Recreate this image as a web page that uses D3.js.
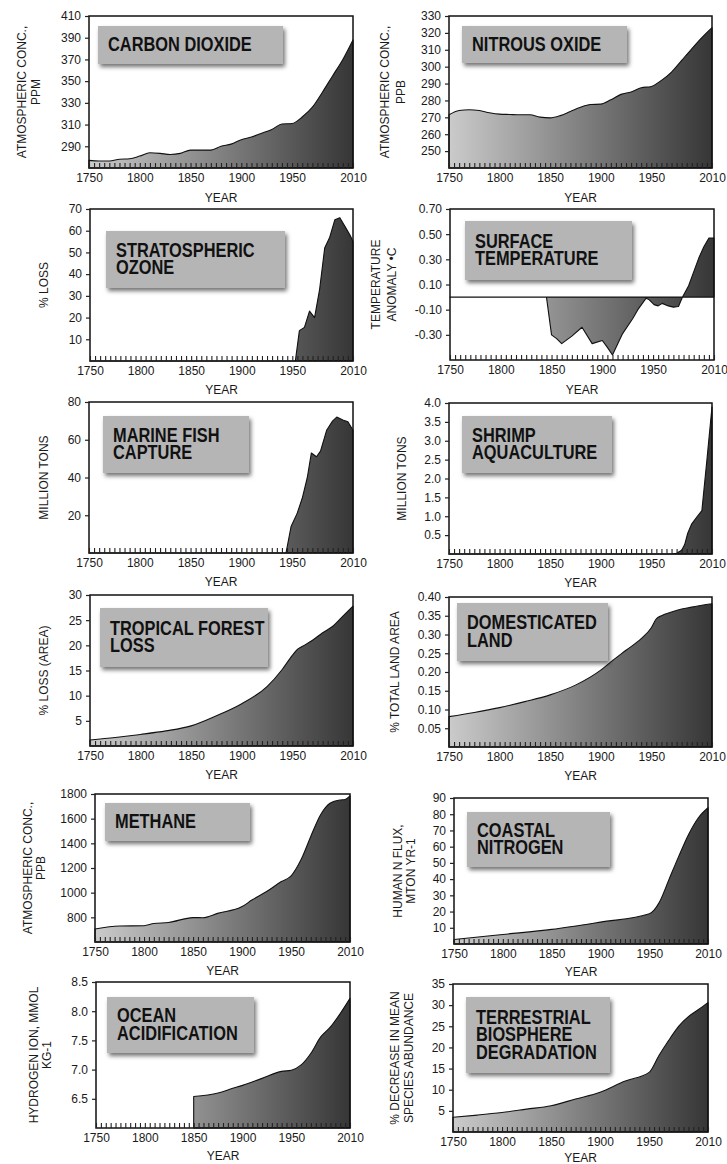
<!DOCTYPE html>
<html><head><meta charset="utf-8">
<script src="https://cdn.jsdelivr.net/npm/d3@7"></script>
<style>body{margin:0;background:#fff} svg{display:block}</style>
</head><body>
<svg id="c" width="727" height="1164"></svg>
<script>
// ---------- DATA ----------
const xTickLabels = [1750, 1800, 1850, 1900, 1950, 2010];

const co2 = [[1750,277],[1760,276.5],[1770,276.5],[1780,278],[1790,278.5],[1800,281],[1810,284],[1820,283.5],[1830,282.5],[1840,283.5],[1850,286.5],[1860,286.5],[1870,286.5],[1880,290],[1890,292],[1900,296],[1910,298.5],[1920,302],[1930,305.5],[1940,310.5],[1950,311],[1960,317],[1970,326],[1980,340],[1990,355],[2000,370],[2010,388]];
const co2Ticks = [290,310,330,350,370,390,410];

const n2o = [[1750,271.5],[1760,274],[1770,274.5],[1780,274],[1790,272.7],[1800,271.9],[1810,271.7],[1820,271.5],[1830,271.5],[1840,270.1],[1850,269.7],[1860,271],[1870,273.5],[1880,276],[1890,277.6],[1900,277.8],[1910,280.4],[1920,283.6],[1930,285],[1940,287.5],[1950,288.3],[1960,291.9],[1970,296.8],[1980,303.7],[1990,310.6],[2000,317.2],[2010,323.1]];
const n2oTicks = [250,260,270,280,290,300,310,320,330];

const ozone = [[1750,0],[1953,0],[1957,14],[1962,15.5],[1967,23],[1972,20],[1977,33],[1982,52],[1987,57],[1992,65],[1997,66],[2002,62],[2007,58],[2010,55]];
const ozoneTicks = [10,20,30,40,50,60,70];

const temperature = [[1750,0],[1845,0],[1850,-0.30],[1855,-0.33],[1860,-0.37],[1870,-0.31],[1880,-0.24],[1890,-0.37],[1900,-0.345],[1905,-0.40],[1910,-0.46],[1920,-0.29],[1930,-0.17],[1935,-0.10],[1943,-0.01],[1946,-0.02],[1951,-0.06],[1955,-0.07],[1959,-0.05],[1965,-0.07],[1970,-0.08],[1975,-0.075],[1979,0.0],[1985,0.09],[1990,0.20],[1995,0.31],[2000,0.40],[2005,0.47],[2010,0.47]];
const temperatureTicks = [-0.30,-0.10,0.10,0.30,0.50,0.70];

const fish = [[1750,0],[1944,0],[1949,14],[1955,21],[1960,29],[1965,40],[1969,53],[1974,51],[1978,54],[1984,65],[1990,70],[1994,72],[2000,70.5],[2005,69.5],[2010,65]];
const fishTicks = [20,40,60,80];

const shrimp = [[1750,0],[1970,0],[1975,0.02],[1980,0.1],[1983,0.25],[1986,0.55],[1990,0.8],[1995,0.98],[2000,1.15],[2005,2.5],[2010,3.9]];
const shrimpTicks = [0.5,1.0,1.5,2.0,2.5,3.0,3.5,4.0];

const forest = [[1750,1.2],[1775,1.7],[1800,2.3],[1825,3.0],[1850,4.0],[1875,6.0],[1900,8.4],[1925,11.8],[1940,15.2],[1950,18.0],[1955,19.2],[1960,19.8],[1970,21.0],[1980,22.5],[1990,23.8],[2000,25.8],[2010,27.8]];
const forestTicks = [5,10,15,20,25,30];

const land = [[1750,0.081],[1775,0.092],[1800,0.105],[1825,0.121],[1850,0.139],[1875,0.165],[1900,0.205],[1910,0.227],[1925,0.258],[1940,0.289],[1950,0.318],[1955,0.342],[1960,0.350],[1970,0.360],[1980,0.368],[1990,0.373],[2000,0.378],[2010,0.382]];
const landTicks = [0.05,0.10,0.15,0.20,0.25,0.30,0.35,0.40];

const methane = [[1750,705],[1775,730],[1800,732],[1810,750],[1825,758],[1850,798],[1860,797],[1875,832],[1900,887],[1910,940],[1925,1009],[1940,1090],[1950,1136],[1960,1266],[1970,1456],[1980,1632],[1990,1727],[2000,1752],[2005,1756],[2010,1785]];
const methaneTicks = [800,1000,1200,1400,1600,1800];

const nitrogen = [[1750,2.8],[1800,5.9],[1850,9.0],[1900,13.5],[1950,18.6],[1955,21],[1960,25.5],[1970,39.7],[1980,54],[1990,67.4],[2000,77.7],[2010,84]];
const nitrogenTicks = [10,20,30,40,50,60,70,80,90];

const ocean = [[1850,6.54],[1875,6.6],[1890,6.68],[1900,6.73],[1920,6.85],[1940,6.97],[1950,6.99],[1960,7.08],[1970,7.28],[1980,7.56],[1990,7.73],[2000,7.96],[2010,8.22]];
const oceanTicks = [6.5,7.0,7.5,8.0,8.5];

const biosphere = [[1750,3.5],[1775,4.0],[1800,4.6],[1825,5.4],[1850,6.2],[1875,7.8],[1900,9.4],[1925,12.0],[1950,14.1],[1960,18.1],[1970,21.7],[1980,25.0],[1990,27.3],[2000,28.9],[2010,30.6]];
const biosphereTicks = [5,10,15,20,25,30,35];

// ---------- PANEL DEFINITIONS ----------
const f0 = d3.format("d"), f1 = d3.format(".1f"), f2 = d3.format(".2f");
const hy = f => v => f(v).replace("\u2212", "-");

const panels = [
  {data: co2, domain:[270,410], ticks: co2Ticks, fmt: f0, title:["CARBON DIOXIDE"], ylab:["ATMOSPHERIC CONC.,","PPM"], smooth:true},
  {data: n2o, domain:[240,330], ticks: n2oTicks, fmt: f0, title:["NITROUS OXIDE"], ylab:["ATMOSPHERIC CONC.,","PPB"], smooth:true},
  {data: ozone, domain:[0,70], ticks: ozoneTicks, fmt: f0, title:["STRATOSPHERIC","OZONE"], ylab:["% LOSS"], smooth:false},
  {data: temperature, domain:[-0.5,0.7], ticks: temperatureTicks, fmt: hy(f2), title:["SURFACE","TEMPERATURE"], ylab:["TEMPERATURE","ANOMALY \u2022C"], smooth:false, base:0},
  {data: fish, domain:[0,80], ticks: fishTicks, fmt: f0, title:["MARINE FISH","CAPTURE"], ylab:["MILLION TONS"], smooth:false},
  {data: shrimp, domain:[0,4], ticks: shrimpTicks, fmt: f1, title:["SHRIMP","AQUACULTURE"], ylab:["MILLION TONS"], smooth:false},
  {data: forest, domain:[0,30], ticks: forestTicks, fmt: f0, title:["TROPICAL FOREST","LOSS"], ylab:["% LOSS (AREA)"], smooth:true},
  {data: land, domain:[0,0.4], ticks: landTicks, fmt: f2, title:["DOMESTICATED","LAND"], ylab:["% TOTAL LAND AREA"], smooth:true},
  {data: methane, domain:[600,1800], ticks: methaneTicks, fmt: f0, title:["METHANE"], ylab:["ATMOSPHERIC CONC.,","PPB"], smooth:true},
  {data: nitrogen, domain:[0,90], ticks: nitrogenTicks, fmt: f0, title:["COASTAL","NITROGEN"], ylab:["HUMAN N FLUX,","MTON YR-1"], smooth:true},
  {data: ocean, domain:[6.0,8.5], ticks: oceanTicks, fmt: f1, title:["OCEAN","ACIDIFICATION"], ylab:["HYDROGEN ION, MMOL","KG-1"], smooth:true},
  {data: biosphere, domain:[0,35], ticks: biosphereTicks, fmt: f0, title:["TERRESTRIAL","BIOSPHERE","DEGRADATION"], ylab:["% DECREASE IN MEAN","SPECIES ABUNDANCE"], smooth:true}
];

// ---------- LAYOUT ----------
const layout = [
  {l:89,  r:353, t:16,  b:168,  box:[98,283,26,64],     ylx:[26,40],   yr:34},
  {l:449, r:712, t:16,  b:168,  box:[462,627,26,63],    ylx:[389,405], yr:34},
  {l:90,  r:353, t:209, b:361,  box:[106,285,231,288],  ylx:[48],      yr:33},
  {l:450, r:714, t:209, b:360,  box:[465,632,221,280],  ylx:[380,396], yr:34},
  {l:89,  r:353, t:402, b:553,  box:[103,249,416,473],  ylx:[48],      yr:33},
  {l:449, r:712, t:403, b:554,  box:[462,612,416,473],  ylx:[406],     yr:33},
  {l:90,  r:353, t:595, b:746,  box:[100,268,608,667],  ylx:[48],      yr:33},
  {l:449, r:712, t:597, b:747,  box:[457,608,603,661],  ylx:[399],     yr:33},
  {l:95,  r:350, t:794, b:942,  box:[105,250,803,841],  ylx:[32,45],   yr:33},
  {l:454, r:708, t:798, b:944,  box:[467,610,812,867],  ylx:[402,415], yr:32},
  {l:96,  r:350, t:982, b:1128, box:[107,254,997,1053], ylx:[38,51],   yr:32},
  {l:453, r:708, t:984, b:1132, box:[466,610,997,1073], ylx:[399,413], yr:29.5}
];

// ---------- DRAW ----------
const svg = d3.select("#c");
const defs = svg.append("defs");
const flt = defs.append("filter").attr("id","shadow").attr("x","-20%").attr("y","-30%").attr("width","140%").attr("height","170%");
flt.append("feDropShadow").attr("dx",2).attr("dy",3).attr("stdDeviation",2.2)
   .attr("flood-color","#000").attr("flood-opacity",0.55);

const tickFont = "'Liberation Sans', Arial, sans-serif";
const titleFont = "'Liberation Sans', Arial, sans-serif";

panels.forEach((p, i) => {
  const L = layout[i];
  const x = d3.scaleLinear().domain([1750, 2010]).range([L.l, L.r]);
  const y = d3.scaleLinear().domain(p.domain).range([L.b, L.t]);
  const base = p.base !== undefined ? p.base : p.domain[0];

  const g = svg.append("g");

  const gid = "grad" + i;
  const grad = defs.append("linearGradient").attr("id", gid)
    .attr("gradientUnits","userSpaceOnUse")
    .attr("x1", x(1750)).attr("x2", x(2010)).attr("y1",0).attr("y2",0);
  grad.append("stop").attr("offset","0%").attr("stop-color","#cbcbcb");
  grad.append("stop").attr("offset","100%").attr("stop-color","#363636");

  const area = d3.area()
    .x(d => x(d[0])).y0(y(base)).y1(d => y(d[1]))
    .curve(p.smooth ? d3.curveMonotoneX : d3.curveLinear);

  g.append("path").datum(p.data).attr("d", area)
    .attr("fill", `url(#${gid})`).attr("stroke","#111").attr("stroke-width",1.1)
    .attr("stroke-linejoin","round");

  // frame
  g.append("rect").attr("x",L.l).attr("y",L.t).attr("width",L.r-L.l).attr("height",L.b-L.t)
    .attr("fill","none").attr("stroke","#111").attr("stroke-width",1.5);

  // y axis ticks
  const yAxis = d3.axisLeft(y).tickValues(p.ticks).tickFormat(p.fmt).tickSize(4).tickPadding(4);
  const ya = g.append("g").attr("transform",`translate(${L.l},0)`).call(yAxis);
  ya.select(".domain").remove();
  ya.selectAll("line").attr("stroke","#222").attr("stroke-width",1.2);
  ya.selectAll("text").attr("font-family",tickFont).attr("font-size",12).attr("fill","#1a1a1a");

  // x axis minor ticks every 5 years (inward)
  const minor = d3.range(1750, 2011, 5);
  const xm = d3.axisBottom(x).tickValues(minor).tickSize(-5).tickFormat("");
  const xa = g.append("g").attr("transform",`translate(0,${L.b})`).call(xm);
  xa.select(".domain").remove();
  xa.selectAll("line").attr("stroke","#222").attr("stroke-width",1.1);
  // x axis labels
  const xl = d3.axisBottom(x).tickValues(xTickLabels).tickSize(0).tickPadding(5).tickFormat(d3.format("d"));
  const xb = g.append("g").attr("transform",`translate(0,${L.b})`).call(xl);
  xb.select(".domain").remove();
  xb.selectAll("text").attr("font-family",tickFont).attr("font-size",12).attr("fill","#1a1a1a");

  // x title
  g.append("text").attr("x",(L.l+L.r)/2).attr("y",L.b+L.yr).attr("text-anchor","middle")
    .attr("font-family",tickFont).attr("font-size",12).attr("fill","#1a1a1a").text("YEAR");

  // y title (rotated)
  const cy = (L.t + L.b)/2;
  p.ylab.forEach((line, k) => {
    g.append("text").attr("transform",`translate(${L.ylx[k]},${cy}) rotate(-90)`)
      .attr("text-anchor","middle").attr("font-family",tickFont).attr("font-size",12)
      .attr("fill","#1a1a1a").text(line);
  });

  // title box
  const [bx0, bx1, by0, by1] = L.box;
  g.append("rect").attr("x",bx0).attr("y",by0).attr("width",bx1-bx0).attr("height",by1-by0)
    .attr("fill","#b5b5b5").attr("filter","url(#shadow)");
  const fs = 20, lh = 17.5, cap = 0.716*fs;
  const n = p.title.length;
  const blockH = (n-1)*lh + cap;
  const capTop = by0 + (by1-by0-blockH)/2 - 1;
  const tt = g.append("text")
    .attr("transform", `translate(${bx0 + 10},${capTop + cap}) scale(0.82,1)`)
    .attr("font-family",titleFont).attr("font-weight","bold").attr("font-size",fs)
    .attr("fill","#111");
  p.title.forEach((line, k) => {
    tt.append("tspan").attr("x",0).attr("y", k*lh).text(line);
  });
});
</script>
</body></html>
